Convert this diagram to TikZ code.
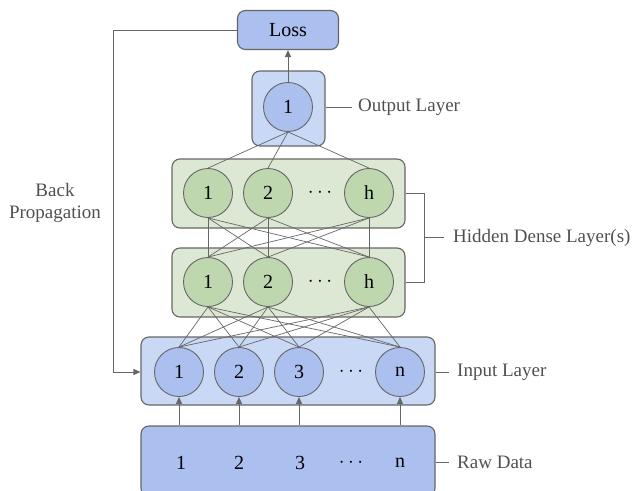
\documentclass[tikz,border=0pt]{standalone}
\usepackage{fontspec}
\setmainfont{Liberation Serif}
\usetikzlibrary{arrows.meta}
\definecolor{lbox}{HTML}{C9D8F4}
\definecolor{dblue}{HTML}{ABC0EE}
\definecolor{gbox}{HTML}{DCE8D4}
\definecolor{gcirc}{HTML}{BFD7AE}
\definecolor{edge}{HTML}{666666}
\definecolor{lab}{HTML}{505050}
\tikzset{
  layerbox/.style={draw=edge, line width=1.1pt, rounded corners=8pt},
  neuron/.style={circle, draw=edge, line width=0.9pt, minimum size=49pt, inner sep=0pt, font=\fontsize{20}{22}\selectfont, text=black},
  bneuron/.style={neuron, fill=dblue},
  gneuron/.style={neuron, fill=gcirc},
  conn/.style={draw=edge, line width=0.7pt},
  arr/.style={draw=edge, line width=1pt, -{Triangle[length=7pt,width=6pt]}},
  lbl/.style={anchor=west, text=lab, font=\fontsize{19}{21}\selectfont, inner sep=0pt},
  lline/.style={draw=edge, line width=1pt},
  plain/.style={font=\fontsize{20}{22}\selectfont, text=black, inner sep=0pt}
}
\begin{document}
\begin{tikzpicture}[x=1pt,y=-1pt]
\useasboundingbox (0,0) rectangle (634,490);
% boxes
\node[layerbox, fill=dblue, minimum width=101pt, minimum height=39pt, font=\fontsize{20}{22}\selectfont] (loss) at (288,30) {Loss};
\node[layerbox, fill=lbox, minimum width=73pt, minimum height=75pt] (outbox) at (288.5,108.5) {};
\node[layerbox, fill=gbox, minimum width=233pt, minimum height=69pt] (h1box) at (288.5,193.5) {};
\node[layerbox, fill=gbox, minimum width=233pt, minimum height=69pt] (h2box) at (288.5,282.5) {};
\node[layerbox, fill=lbox, minimum width=294pt, minimum height=68pt] (inbox) at (288,371) {};
\node[layerbox, fill=dblue, minimum width=294pt, minimum height=70pt] (raw) at (288,461) {};
% neurons
\node[bneuron] (o1) at (288,107) {1};
\node[gneuron] (a1) at (208,193) {1};
\node[gneuron] (a2) at (268,193) {2};
\node[plain] (ad) at (320,193) {$\cdots$};
\node[gneuron] (ah) at (369,193) {h};
\node[gneuron] (b1) at (208,282) {1};
\node[gneuron] (b2) at (268,282) {2};
\node[plain] (bd) at (320,282) {$\cdots$};
\node[gneuron] (bh) at (369,282) {h};
\node[bneuron] (i1) at (179,372) {1};
\node[bneuron] (i2) at (239,372) {2};
\node[bneuron] (i3) at (299,372) {3};
\node[plain] (id) at (351,372) {$\cdots$};
\node[bneuron] (in) at (400,372) {n};
% raw data entries
\node[plain] (r1) at (181,463) {1};
\node[plain] (r2) at (239,463) {2};
\node[plain] (r3) at (300,463) {3};
\node[plain] (rd) at (351,463) {$\cdots$};
\node[plain] (rn) at (400,463) {n};
% connections
\foreach \t in {a1,a2,ah} \draw[conn] (o1.south) -- (\t.north);
\foreach \s in {a1,a2,ah} \foreach \t in {b1,b2,bh} \draw[conn] (\s.south) -- (\t.north);
\foreach \s in {b1,b2,bh} \foreach \t in {i1,i2,i3,in} \draw[conn] (\s.south) -- (\t.north);
% arrows
\draw[arr] (o1.north) -- (loss.south);
\foreach \t in {i1,i2,i3,in} \draw[arr] (raw.north -| \t) -- (\t.south);
\coordinate (bpc) at (113,30);
\coordinate (bpd) at (113,372);
\draw[arr] (loss.west) -- (bpc) -- (bpd) -- (inbox.west |- bpd);
\node[text=lab, font=\fontsize{19}{21}\selectfont, align=center] (bp) at (55,203) {Back\\[1pt]Propagation};
% labels
\coordinate (ol) at (352,107);
\draw[lline] (outbox.east |- ol) -- (ol);
\node[lbl] (oll) at (358,107) {Output Layer};
\coordinate (hb1) at (424,193);
\coordinate (hb2) at (424,282);
\coordinate (hm) at (424,237.5);
\coordinate (hl) at (444,237.5);
\draw[lline] (h1box.east |- hb1) -- (hb1) -- (hb2) -- (h2box.east |- hb2);
\draw[lline] (hm) -- (hl);
\node[lbl] (hll) at (453,238) {Hidden Dense Layer(s)};
\coordinate (il) at (449,372);
\draw[lline] (inbox.east |- il) -- (il);
\node[lbl] (ill) at (457,372) {Input Layer};
\coordinate (rl) at (449,462);
\draw[lline] (raw.east |- rl) -- (rl);
\node[lbl] (rll) at (457,462) {Raw Data};
\end{tikzpicture}
\end{document}
